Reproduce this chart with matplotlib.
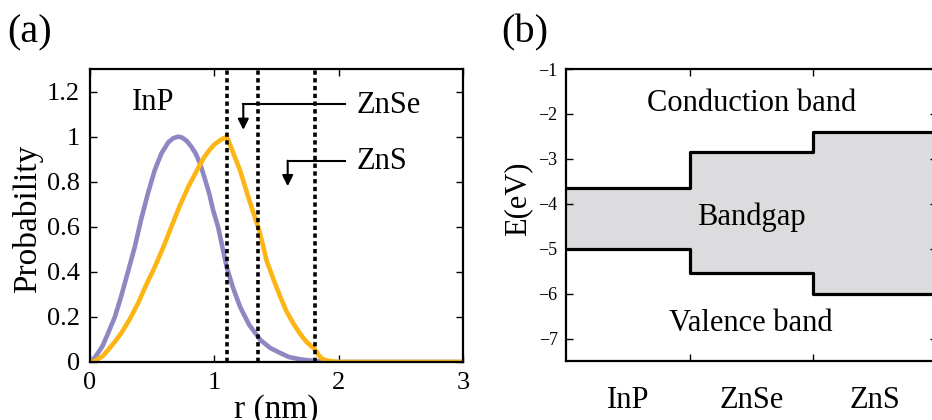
import numpy as np
import matplotlib
matplotlib.use("Agg")
import matplotlib.pyplot as plt

plt.rcParams["font.family"] = ["Liberation Serif", "DejaVu Serif"]

# (a) radial probability
r_inp = [0, 0.04, 0.1, 0.145, 0.2, 0.25, 0.3, 0.36, 0.41, 0.467, 0.52, 0.574, 0.63,
         0.67, 0.708, 0.74, 0.78, 0.815, 0.85, 0.885, 0.92, 0.96, 0.99, 1.03, 1.065,
         1.10, 1.15, 1.207, 1.28, 1.37, 1.45, 1.53, 1.6, 1.69, 1.8, 1.9, 3.0]
p_inp = [0, 0.02, 0.07, 0.127, 0.2, 0.29, 0.39, 0.51, 0.63, 0.75, 0.85, 0.925, 0.975,
         0.993, 1.0, 0.996, 0.98, 0.955, 0.925, 0.88, 0.82, 0.745, 0.674, 0.60, 0.51,
         0.42, 0.33, 0.245, 0.165, 0.098, 0.062, 0.04, 0.022, 0.012, 0.005, 0.0, 0.0]

r_core = [0, 0.04, 0.1, 0.145, 0.2, 0.25, 0.32, 0.386, 0.45, 0.52, 0.59, 0.654, 0.72,
          0.79, 0.86, 0.92, 0.96, 1.0, 1.05, 1.10, 1.15, 1.207, 1.28, 1.357, 1.39,
          1.42, 1.48, 1.53, 1.58, 1.636, 1.69, 1.74, 1.78, 1.81, 1.84, 1.864, 1.9,
          1.95, 2.0, 3.0]
p_core = [0, 0.005, 0.025, 0.053, 0.09, 0.127, 0.19, 0.26, 0.34, 0.42, 0.51, 0.60, 0.69,
          0.777, 0.85, 0.91, 0.94, 0.965, 0.985, 1.0, 0.93, 0.85, 0.72, 0.59, 0.52,
          0.45, 0.36, 0.29, 0.225, 0.17, 0.125, 0.09, 0.07, 0.056, 0.03, 0.016, 0.007,
          0.003, 0.0, 0.0]

shells = [1.1, 1.355, 1.81]

# (b) band edges
materials = ["InP", "ZnSe", "ZnS"]
cb = [-3.65, -2.85, -2.4]
vb = [-5.0, -5.55, -6.0]

purple = "#8f87c2"
yellow = "#fdb515"

fig = plt.figure(figsize=(9.32, 4.2), dpi=100)

# ---- panel (a)
ax1 = fig.add_axes([90 / 932, 58 / 420, 373 / 932, 293 / 420])
ax1.plot(r_inp, p_inp, color=purple, lw=3.3, solid_joinstyle="round")
ax1.plot(r_core, p_core, color=yellow, lw=3.3, solid_joinstyle="round")
for s in shells:
    ax1.axvline(s, color="k", lw=2.6, ls=(0, (1.2, 0.95)))
ax1.set_xlim(0, 3)
ax1.set_ylim(0, 1.3)
ax1.set_xticks([0, 1, 2, 3])
ax1.set_xticklabels(["0", "1", "2", "3"])
ax1.set_yticks([0, 0.2, 0.4, 0.6, 0.8, 1.0, 1.2])
ax1.set_yticklabels(["0", "0.2", "0.4", "0.6", "0.8", "1", "1.2"])
ax1.tick_params(direction="in", top=True, right=True, length=5, width=1,
                labelsize=19, pad=7)
ax1.set_xlabel("r (nm)", fontsize=24)
ax1.xaxis.set_label_coords(0.5, -0.11)
ax1.xaxis.label.set_va("top")
ax1.set_ylabel("Probability", fontsize=24)
ax1.yaxis.set_label_coords(-0.125, 0.49)
for sp in ax1.spines.values():
    sp.set_linewidth(1.6)

ax1.text(0.51, 1.15, "InP", fontsize=22, ha="center", va="center")
ax1.text(2.14, 1.14, "ZnSe", fontsize=22, ha="left", va="center")
ax1.text(2.14, 0.89, "ZnS", fontsize=22, ha="left", va="center")
ax1.plot([2.05, 1.233], [1.143, 1.143], color="k", lw=1.5)
ax1.annotate("", xy=(1.233, 1.03), xytext=(1.233, 1.143),
             arrowprops=dict(arrowstyle="-|>", color="k", lw=1.5, mutation_scale=16,
                             shrinkA=0, shrinkB=0))
ax1.plot([2.05, 1.59], [0.893, 0.893], color="k", lw=1.5)
ax1.annotate("", xy=(1.59, 0.78), xytext=(1.59, 0.893),
             arrowprops=dict(arrowstyle="-|>", color="k", lw=1.5, mutation_scale=16,
                             shrinkA=0, shrinkB=0))
fig.text(30 / 932, 1 - 33 / 420, "(a)", fontsize=29, ha="center", va="center")

# ---- panel (b)
ax2 = fig.add_axes([566 / 932, 59 / 420, 370.5 / 932, 292 / 420])
edges = np.arange(len(materials) + 1)
cb_step = cb + [cb[-1]]
vb_step = vb + [vb[-1]]
ax2.fill_between(edges, vb_step, cb_step, step="post", color="#dcdcde", lw=0)
ax2.step(edges, cb_step, where="post", color="k", lw=2.3)
ax2.step(edges, vb_step, where="post", color="k", lw=2.3)
ax2.set_xlim(0, 3)
ax2.set_ylim(-7.5, -1)
ax2.set_xticks([1, 2])
ax2.set_xticklabels([])
ax2.set_yticks([-1, -2, -3, -4, -5, -6, -7])
ax2.set_yticklabels(["\u22121", "\u22122", "\u22123", "\u22124", "\u22125", "\u22126", "\u22127"])
ax2.tick_params(direction="in", top=True, right=True, length=5, width=1,
                labelsize=13, pad=6)
for sp in ax2.spines.values():
    sp.set_linewidth(1.6)
for i, m in enumerate(materials):
    ax2.text(i + 0.5, -0.135, m, transform=ax2.get_xaxis_transform(),
             fontsize=22, ha="center", va="center")
ax2.set_ylabel("E(eV)", fontsize=22)
ax2.yaxis.set_label_coords(-0.092, 0.555)
ax2.text(1.5, -1.76, "Conduction band", fontsize=22, ha="center", va="center")
ax2.text(1.5, -4.3, "Bandgap", fontsize=22, ha="center", va="center")
ax2.text(1.5, -6.67, "Valence band", fontsize=22, ha="center", va="center")
fig.text(525 / 932, 1 - 33 / 420, "(b)", fontsize=29, ha="center", va="center")

fig.savefig("out.png", dpi=100)
